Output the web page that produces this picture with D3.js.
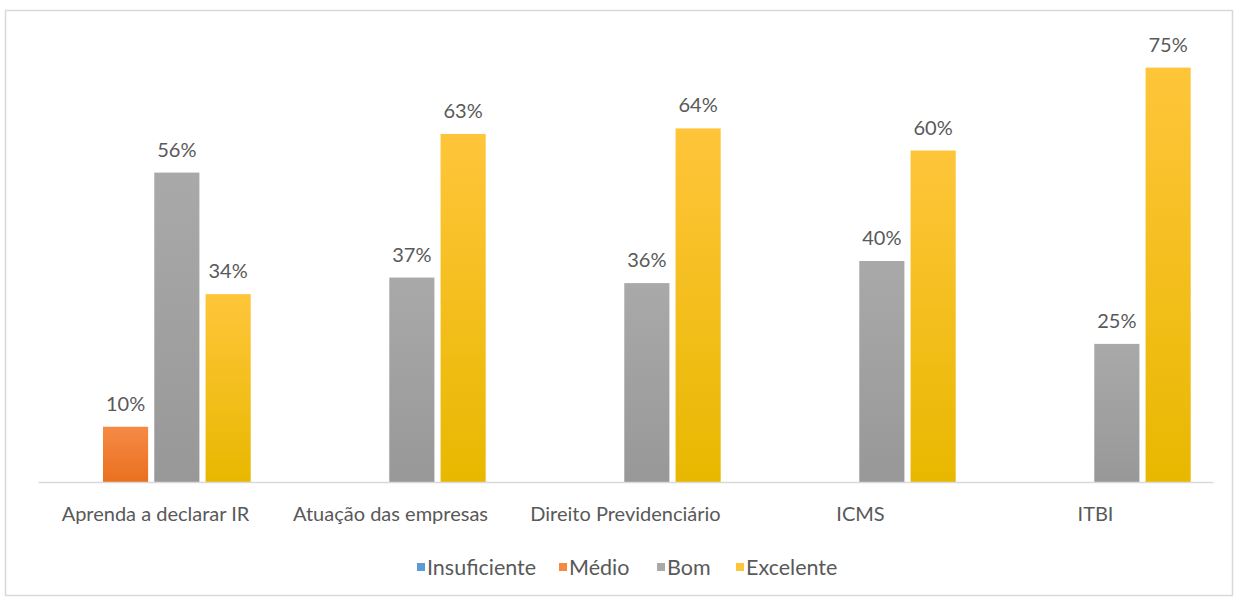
<!DOCTYPE html>
<html>
<head>
<meta charset="utf-8">
<script src="https://cdn.jsdelivr.net/npm/d3@7"></script>
<style>
  body { margin: 0; background: #fff; }
  text { font-family: Lato, "Open Sans", sans-serif; }
</style>
</head>
<body>
<div id="chart"></div>
<script>
const categories = ["Aprenda a declarar IR", "Atuação das empresas", "Direito Previdenciário", "ICMS", "ITBI"];
const seriesNames = ["Insuficiente", "Médio", "Bom", "Excelente"];
const insuficiente = [0, 0, 0, 0, 0];
const medio = [10, 0, 0, 0, 0];
const bom = [56, 37, 36, 40, 25];
const excelente = [34, 63, 64, 60, 75];
const seriesValues = [insuficiente, medio, bom, excelente];
const colors = [
  {top: "#5b9bd5", bottom: "#4a89c6"},
  {top: "#f58a45", bottom: "#ea7020"},
  {top: "#a9a9a9", bottom: "#989898"},
  {top: "#ffc53a", bottom: "#e8b800"}
];

const W = 1243, H = 599;
let margin = {top: 40, right: 30, bottom: 117, left: 38},
  width = W - margin.left - margin.right,
  height = H - margin.top - margin.bottom;

let root = d3.select("#chart").append("svg")
  .attr("width", W)
  .attr("height", H);

// outer frame
root.append("rect")
  .attr("x", 5.5).attr("y", 10.5)
  .attr("width", 1227).attr("height", 585)
  .attr("fill", "none")
  .attr("stroke", "#d9d9d9")
  .attr("stroke-width", 1.5);

let defs = root.append("defs");
colors.forEach(function(c, i) {
  let g = defs.append("linearGradient")
    .attr("id", "grad" + i)
    .attr("x1", 0).attr("x2", 0).attr("y1", 0).attr("y2", 1);
  g.append("stop").attr("offset", "0%").attr("stop-color", c.top);
  g.append("stop").attr("offset", "100%").attr("stop-color", c.bottom);
});

let svg = root.append("g")
  .attr("transform", "translate(" + margin.left + "," + margin.top + ")");

let x0 = d3.scaleBand()
  .domain(categories)
  .range([0, width]);

let x1 = d3.scaleBand()
  .domain(seriesNames)
  .range([13.7, 212.7])
  .paddingInner(0.12)
  .paddingOuter(0);

let y = d3.scaleLinear()
  .domain([0, 80])
  .range([height, 0]);

function rows(d, ci) {
  return seriesNames.map(function(s, si) { return {s: s, si: si, v: seriesValues[si][ci]}; });
}

// bars
let groups = svg.selectAll("g.group")
  .data(categories)
  .enter()
  .append("g")
  .attr("class", "group")
  .attr("transform", function(d) { return "translate(" + x0(d) + ",0)"; });

groups.selectAll("rect")
  .data(rows)
  .enter()
  .filter(function(d) { return d.v > 0; })
  .append("rect")
  .attr("x", function(d) { return x1(d.s); })
  .attr("y", function(d) { return y(d.v); })
  .attr("width", x1.bandwidth())
  .attr("height", function(d) { return height - y(d.v); })
  .attr("fill", function(d) { return "url(#grad" + d.si + ")"; });

groups.selectAll("text.val")
  .data(rows)
  .enter()
  .filter(function(d) { return d.v > 0; })
  .append("text")
  .attr("class", "val")
  .attr("x", function(d) { return x1(d.s) + x1.bandwidth() / 2; })
  .attr("y", function(d) { return y(d.v) - 16; })
  .attr("text-anchor", "middle")
  .attr("font-size", 20)
  .attr("fill", "#595959")
  .text(function(d) { return d.v + "%"; });

// x axis
let xAxis = svg.append("g")
  .attr("transform", "translate(0," + height + ")")
  .call(d3.axisBottom(x0).tickSize(0).tickPadding(25));
xAxis.select(".domain").attr("stroke", "#d9d9d9").attr("stroke-width", 1.5);
xAxis.selectAll("text")
  .attr("font-size", 20)
  .attr("fill", "#595959")
  .style("font-family", "Lato, 'Open Sans', sans-serif");

// legend
let legendX = [417, 559, 657, 736];
let legend = root.append("g").attr("transform", "translate(0,567)");
seriesNames.forEach(function(s, i) {
  let item = legend.append("g").attr("transform", "translate(" + legendX[i] + ",0)");
  item.append("rect")
    .attr("x", 0).attr("y", -4)
    .attr("width", 8).attr("height", 8)
    .attr("fill", colors[i].top);
  item.append("text")
    .attr("x", 10).attr("y", 0)
    .attr("dy", "0.35em")
    .attr("font-size", 21.5)
    .attr("fill", "#595959")
    .text(s);
});
</script>
</body>
</html>
